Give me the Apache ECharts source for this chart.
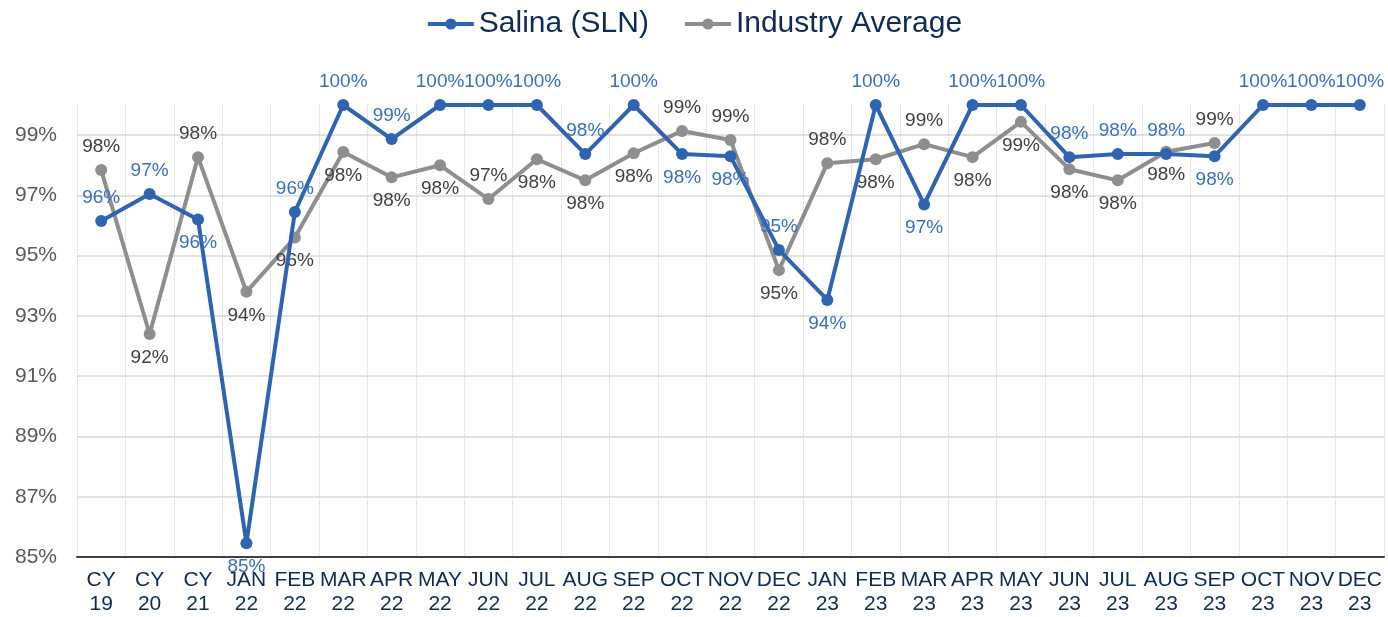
<!DOCTYPE html>
<html>
<head>
<meta charset="utf-8">
<script src="https://cdn.jsdelivr.net/npm/echarts@6/dist/echarts.min.js"></script>
<style>
html, body { margin: 0; padding: 0; background: #fff; }
#main { width: 1388px; height: 617px; }
</style>
</head>
<body>
<div id="main"></div>
<script>
var categories = ['CY\n19', 'CY\n20', 'CY\n21',
    'JAN\n22', 'FEB\n22', 'MAR\n22', 'APR\n22', 'MAY\n22', 'JUN\n22', 'JUL\n22', 'AUG\n22', 'SEP\n22', 'OCT\n22', 'NOV\n22', 'DEC\n22',
    'JAN\n23', 'FEB\n23', 'MAR\n23', 'APR\n23', 'MAY\n23', 'JUN\n23', 'JUL\n23', 'AUG\n23', 'SEP\n23', 'OCT\n23', 'NOV\n23', 'DEC\n23'];
var salina = [96.15, 97.05, 96.2,
    85.46, 96.45, 100, 98.87, 100, 100, 100, 98.37, 100, 98.37, 98.3, 95.19,
    93.53, 100, 96.7, 100, 100, 98.27, 98.37, 98.37, 98.3, 100, 100, 100];
var industry = [97.84, 92.4, 98.27,
    93.8, 95.6, 98.44, 97.6, 98.0, 96.88, 98.2, 97.5, 98.4, 99.14, 98.84, 94.52,
    98.07, 98.2, 98.7, 98.27, 99.44, 97.87, 97.5, 98.45, 98.74, null, null, null];

// where each data label sits (T = above, B = below)
var salinaLabelPos = 'TTBBTTTTTTTTBBTBTBTTTTTBTTT';
var industryLabelPos = 'TBTBBBBBTBBBTTBTBTBBBBBT';

var myChart = echarts.init(document.getElementById('main'));

function withLabels(values, pos) {
    return values.map(function (v, i) {
        return {
            value: v,
            label: { position: pos.charAt(i) === 'B' ? 'bottom' : 'top' }
        };
    });
}

var labelFmt = function (p) {
    return Math.round(p.value) + '%';
};

option = {
    animation: false,
    textStyle: { fontFamily: 'Liberation Sans' },
    legend: {
        top: 4,
        left: 'center',
        itemWidth: 46,
        itemHeight: 14,
        itemGap: 34,
        lineStyle: { width: 4 },
        textStyle: { fontSize: 30, color: '#0E2A57', fontFamily: 'Liberation Sans' },
        data: ['Salina (SLN)', 'Industry Average']
    },
    grid: { left: 77, right: 4, top: 105, bottom: 60 },
    xAxis: {
        type: 'category',
        data: categories,
        boundaryGap: true,
        axisLine: { lineStyle: { color: '#404040', width: 2 } },
        axisTick: { show: false },
        splitLine: { show: true, lineStyle: { color: '#D0D0D0', type: 'dotted', width: 1 } },
        axisLabel: {
            interval: 0,
            color: '#0E2A57',
            fontSize: 21,
            lineHeight: 24,
            margin: 11
        }
    },
    yAxis: {
        type: 'value',
        min: 85,
        max: 100,
        interval: 2,
        axisLine: { show: false },
        axisTick: { show: false },
        splitLine: { showMaxLine: false, lineStyle: { color: '#D9D9D9', width: 1.5 } },
        axisLabel: {
            showMaxLabel: false,
            color: '#595959',
            fontSize: 21,
            margin: 20,
            formatter: '{value}%'
        }
    },
    series: [{
        name: 'Salina (SLN)',
        type: 'line',
        data: withLabels(salina, salinaLabelPos),
        symbol: 'circle',
        symbolSize: 12,
        z: 3,
        itemStyle: { color: '#2E64B0' },
        lineStyle: { color: '#2E64B0', width: 4 },
        label: {
            show: true,
            distance: 8,
            color: '#3A6FC0',
            fontSize: 19,
            formatter: labelFmt
        }
    }, {
        name: 'Industry Average',
        type: 'line',
        data: withLabels(industry, industryLabelPos),
        symbol: 'circle',
        symbolSize: 12,
        z: 2,
        itemStyle: { color: '#8E8E8E' },
        lineStyle: { color: '#8E8E8E', width: 4 },
        label: {
            show: true,
            distance: 8,
            color: '#404040',
            fontSize: 19,
            formatter: labelFmt
        }
    }]
};

myChart.setOption(option);
</script>
</body>
</html>
